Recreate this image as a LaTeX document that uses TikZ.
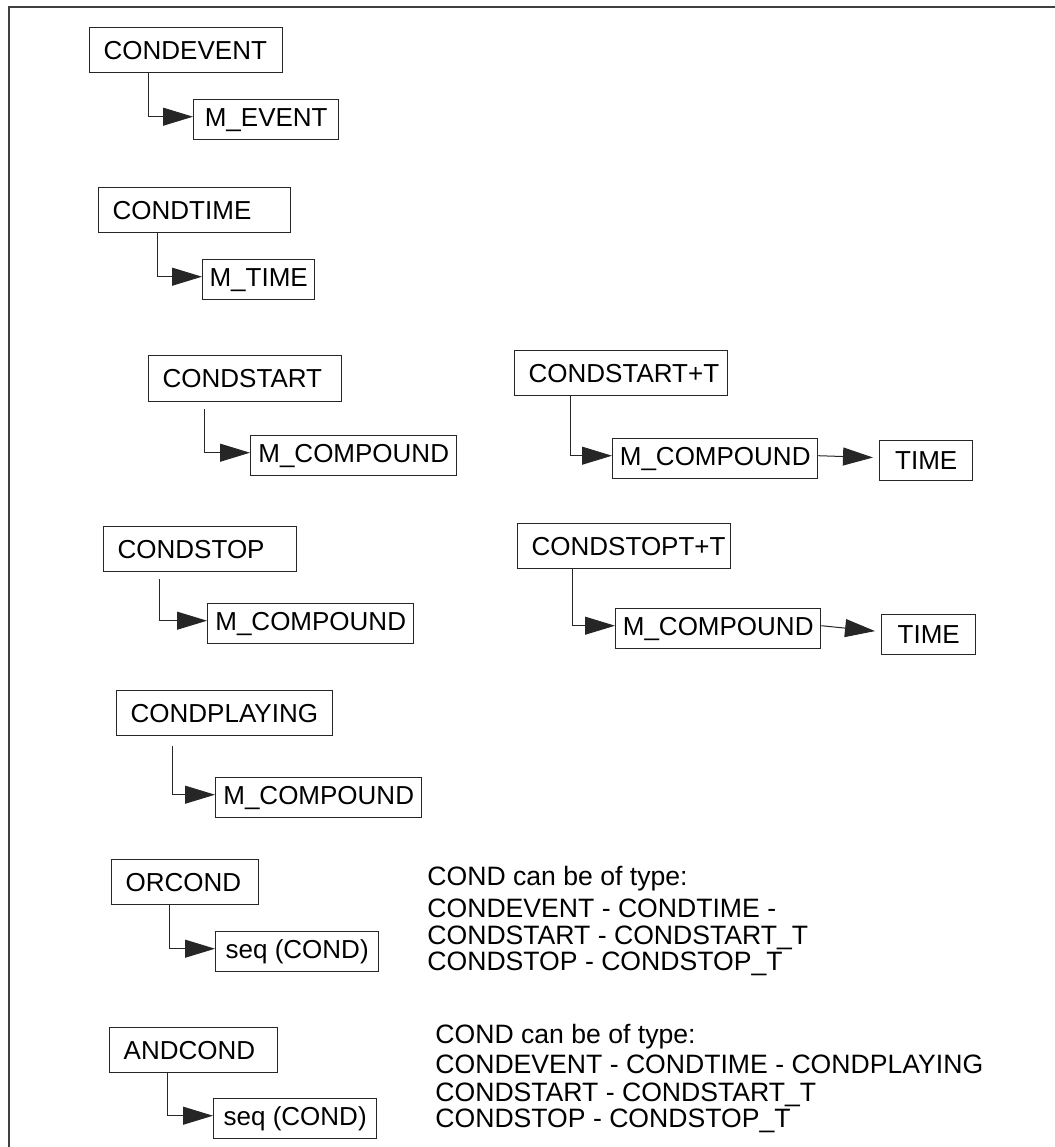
\documentclass[tikz,border=0pt]{standalone}
\usepackage{fontspec}
\setmainfont{Liberation Sans}
\usepackage{tikz}
\usetikzlibrary{arrows.meta}
\newcommand\condfont{\fontsize{13pt}{13.5pt}\selectfont}
\newcommand\notefont{\fontsize{13.3pt}{13.5pt}\selectfont}
\tikzset{
  frame/.style={line width=1pt, black!75},
  cbox/.style={draw=black!85, line width=0.7pt, font=\condfont, anchor=north west,
    inner xsep=7pt, inner ysep=0pt, minimum height=22.5pt, text width=#1, align=left},
  mbox/.style={draw=black!85, line width=0.7pt, font=\condfont, anchor=north west,
    inner sep=0pt, minimum height=20pt, minimum width=#1},
  link/.style={line width=0.5pt, black!85, -{Triangle[length=15pt,width=9pt]}},
  desc/.style={font=\notefont, anchor=base west, inner sep=0pt},
}
\begin{document}
\begin{tikzpicture}[x=0.5pt, y=-0.5pt]
\useasboundingbox (0,0) rectangle (1055,1147);
\draw[frame] (9,1147) -- (9,7) -- (1055,7);
% condition boxes
\node[cbox=82.5pt] (ce) at (89,27) {CONDEVENT};
\node[mbox=72.5pt] (me) at (193,99) {M\_EVENT};
\node[cbox=82pt] (ct) at (98,187) {CONDTIME};
\node[mbox=56pt] (mt) at (202,259) {M\_TIME};
\node[cbox=82.5pt, minimum height=23pt] (cs) at (148,355) {CONDSTART};
\node[mbox=103pt] (mcs) at (250,435) {M\_COMPOUND};
\node[cbox=82.5pt] (cp) at (103,526) {CONDSTOP};
\node[mbox=103pt] (mcp) at (207,603) {M\_COMPOUND};
\node[cbox=94pt] (cpl) at (116,690) {CONDPLAYING};
\node[mbox=103pt] (mcpl) at (215,777) {M\_COMPOUND};
\node[cbox=59.5pt] (oc) at (111,859) {ORCOND};
\node[mbox=81.5pt] (so) at (215,931) {seq (COND)};
\node[cbox=70pt] (ac) at (109,1027) {ANDCOND};
\node[mbox=81.5pt] (sa) at (213,1098) {seq (COND)};
% with time
\node[cbox=92.5pt] (cst) at (514,350) {CONDSTART+T};
\node[mbox=102.5pt] (mcst) at (612,438) {M\_COMPOUND};
\node[mbox=46.5pt] (tst) at (879,440) {TIME};
\node[cbox=92.5pt] (cpt) at (517,523) {CONDSTOPT+T};
\node[mbox=102.5pt] (mcpt) at (615,608) {M\_COMPOUND};
\node[mbox=47pt] (tpt) at (881,614) {TIME};
% connectors
\foreach \p/\c/\d/\g in {ce/me/29.5/0, ct/mt/29.5/0, cs/mcs/28/3.5, cp/mcp/28/3.5,
    cpl/mcpl/28/5, oc/so/29/0, ac/sa/29/0, cst/mcst/28/0, cpt/mcpt/27.5/0}
  \draw[link, shorten <=\g pt] ([xshift=\d pt]\p.south west) |- ([yshift=1.5pt]\c.west);
\draw[link, shorten >=3pt] ([yshift=1.5pt]mcst.east) -- ([yshift=1.5pt]tst.west);
\draw[link, shorten >=3pt] ([yshift=1.5pt]mcpt.east) -- ([yshift=1.5pt]tpt.west);
% type notes
\foreach \y/\t [count=\i] in {885/COND can be of type:, 917/CONDEVENT - CONDTIME -,
    944/CONDSTART - CONDSTART\_T, 970/CONDSTOP - CONDSTOP\_T}
  \node[desc] (ornote\i) at (427,\y) {\t};
\foreach \y/\t [count=\i] in {1043/COND can be of type:, 1073/CONDEVENT - CONDTIME - CONDPLAYING,
    1101/CONDSTART - CONDSTART\_T, 1127/CONDSTOP - CONDSTOP\_T}
  \node[desc] (andnote\i) at (435,\y) {\t};
\end{tikzpicture}
\end{document}
